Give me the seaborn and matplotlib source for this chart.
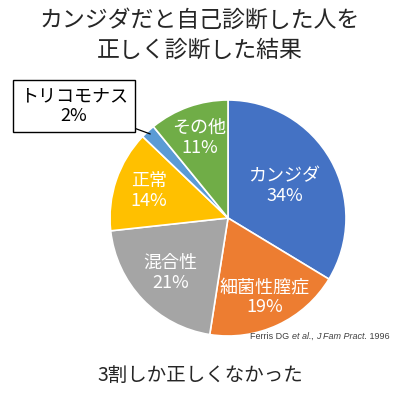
import numpy as np
import matplotlib
matplotlib.use("Agg")
import matplotlib.pyplot as plt
import seaborn as sns

# データ(時計回り、12時の位置から)
labels = ["カンジダ", "細菌性膣症", "混合性", "正常", "トリコモナス", "その他"]
values = [34, 19, 21, 14, 2, 11]
colors = ["#4472C4", "#ED7D31", "#A5A5A5", "#FFC000", "#5B9BD5", "#70AD47"]
# ラベルを置く半径(扇形の中心角に沿って)
label_r = [0.55, 0.74, 0.67, 0.71, None, 0.72]

title1 = "カンジダだと自己診断した人を"
title2 = "正しく診断した結果"
footer = "3割しか正しくなかった"
cite_parts = [("Ferris DG ", "normal"), ("et al.", "italic"), (", ", "normal"),
              ("J Fam Pract.", "italic"), (" 1996", "normal")]

sns.set_theme(style="white")
plt.rcParams["font.family"] = ["Noto Sans CJK JP", "DejaVu Sans"]

W, H = 400, 398
fig = plt.figure(figsize=(W / 100, H / 100), dpi=100)
fig.patch.set_facecolor("white")

# 円: 中心 (228, 218) px, 半径 118 px
cx, cy, r = 228, 218, 118
ax = fig.add_axes([(cx - r) / W, (H - cy - r) / H, 2 * r / W, 2 * r / H])
pal = sns.color_palette(colors)
wedges, _ = ax.pie(values, colors=pal, startangle=90, counterclock=False,
                   wedgeprops=dict(edgecolor="white", linewidth=1.2))
ax.set_xlim(-1, 1)
ax.set_ylim(-1, 1)
ax.set_axis_off()

for w, lab, v, lr in zip(wedges, labels, values, label_r):
    mid = np.deg2rad((w.theta1 + w.theta2) / 2)
    if lr is None:
        # 吹き出しラベル
        ax.annotate(f"{lab}\n{v}%", xy=(0.97 * np.cos(mid), 0.97 * np.sin(mid)),
                    xycoords="data",
                    xytext=(74 / W, 1 - 106 / H), textcoords="figure fraction",
                    ha="center", va="center", fontsize=13, color="black",
                    linespacing=1.15,
                    bbox=dict(boxstyle="square,pad=0.4", fc="white", ec="black", lw=1),
                    arrowprops=dict(arrowstyle="-", color="black", lw=0.9,
                                    shrinkA=0, shrinkB=0))
        continue
    ax.text(lr * np.cos(mid), lr * np.sin(mid), f"{lab}\n{v}%",
            ha="center", va="center", fontsize=13, color="white", linespacing=1.15)

fig.text(0.5, 1 - 20 / H, title1, ha="center", va="center", fontsize=16.5)
fig.text(0.5, 1 - 50 / H, title2, ha="center", va="center", fontsize=16.5)
fig.text(0.5, 1 - 375 / H, footer, ha="center", va="center", fontsize=14)

# 出典(斜体まじり)
prev = fig.text(250 / W, 1 - 341 / H, cite_parts[0][0], ha="left", va="bottom",
                fontsize=6.5, color="#404040", family="Liberation Sans")
for s, st in cite_parts[1:]:
    prev = ax.annotate(s, xy=(1, 0), xycoords=prev, ha="left", va="bottom",
                       fontsize=6.5, color="#404040", family="Liberation Sans",
                       style=st, annotation_clip=False)

fig.savefig("out.png", dpi=100, facecolor="white")
